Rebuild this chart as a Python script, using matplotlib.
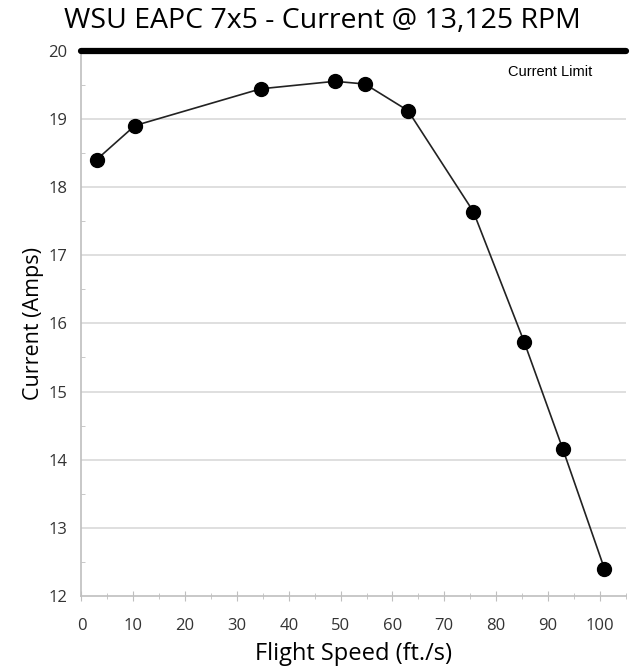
import numpy as np
import matplotlib.pyplot as plt
from matplotlib.ticker import MultipleLocator

# flight speed (ft/s) vs current draw (A)
speed = [2.9, 10.3, 34.6, 48.9, 54.7, 63.0, 75.6, 85.4, 92.9, 100.9]
current = [18.40, 18.90, 19.44, 19.55, 19.51, 19.12, 17.64, 15.73, 14.15, 12.40]

current_limit = 20
x_ticks = [0, 10, 20, 30, 40, 50, 60, 70, 80, 90, 100]
y_ticks = [12, 13, 14, 15, 16, 17, 18, 19, 20]

fig = plt.figure(figsize=(6.38, 6.66), dpi=100)
ax = fig.add_axes([0.1277, 0.105, 0.853, 0.819])

# grid lines
for y in y_ticks[1:-1]:
    ax.axhline(y, color="#d9d9d9", lw=1.2, zorder=0)

ax.plot(speed, current, color="#222222", lw=1.2, marker="o", ms=10,
        mfc="black", mec="black", zorder=3)

# current limit line
ax.plot([0, 105], [current_limit, current_limit], color="black", lw=4.5,
        solid_capstyle="round", zorder=4, clip_on=False)
ax.text(90.5, 19.69, "Current Limit", family="Liberation Sans", fontsize=10.5,
        ha="center", va="center")

ax.set_xlim(0, 105)
ax.set_ylim(12, 20)
ax.set_xticks(x_ticks)
ax.set_yticks(y_ticks)
ax.xaxis.set_minor_locator(MultipleLocator(5))
ax.yaxis.set_minor_locator(MultipleLocator(0.5))

for s in ["top", "right"]:
    ax.spines[s].set_visible(False)
for s in ["left", "bottom"]:
    ax.spines[s].set_color("#bfbfbf")
    ax.spines[s].set_linewidth(1.2)

ax.tick_params(axis="x", which="both", direction="inout", length=7, color="#bfbfbf",
               labelsize=12, labelcolor="#333333", pad=12)
ax.tick_params(axis="x", which="minor", length=4)
ax.tick_params(axis="y", which="major", direction="out", length=0, labelsize=12,
               labelcolor="#333333", pad=10)
ax.tick_params(axis="y", which="minor", direction="in", length=3, color="#bfbfbf")
for lab in ax.get_xticklabels() + ax.get_yticklabels():
    lab.set_family("Open Sans")

ax.set_xlabel("Flight Speed (ft./s)", family="Open Sans", fontsize=17, labelpad=6)
ax.set_ylabel("Current (Amps)", family="Open Sans", fontsize=15.5, labelpad=3)
fig.text(0.505, 0.968, "WSU EAPC 7x5 - Current @ 13,125 RPM", family="Open Sans",
         fontsize=20.5, ha="center", va="center")

fig.savefig("out.png", dpi=100)
